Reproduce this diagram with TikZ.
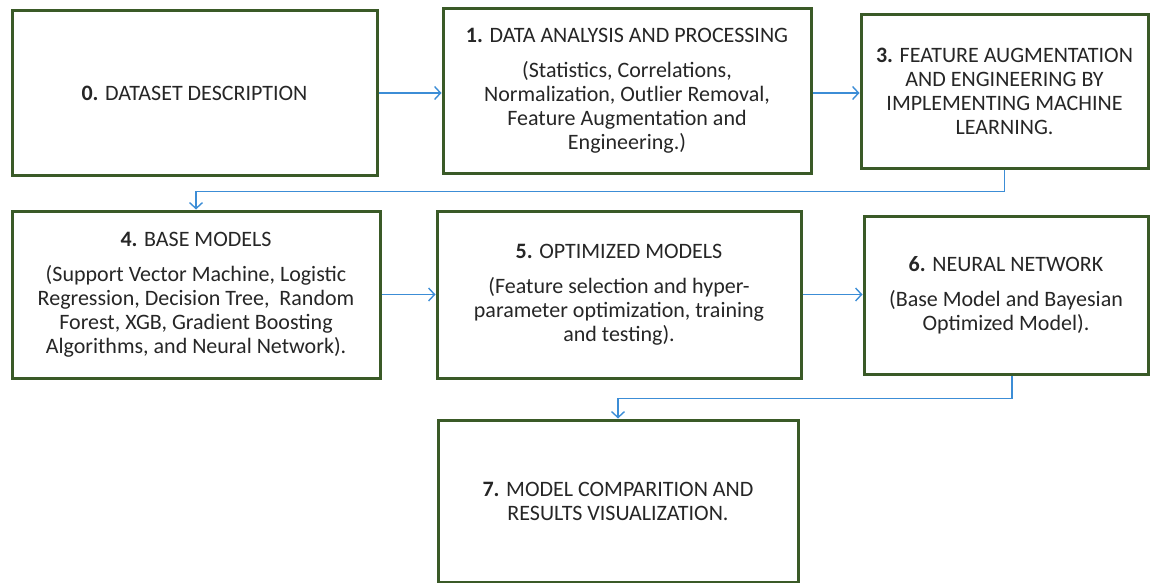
\documentclass[tikz,border=0pt]{standalone}
\usepackage{fontspec}
\setmainfont{Carlito}
\usetikzlibrary{arrows.meta}
\definecolor{boxgreen}{HTML}{3A5A27}
\definecolor{arrowblue}{HTML}{3C8DD6}
\begin{document}
\begin{tikzpicture}[x=1pt,y=-1pt,
  stage/.style={draw=boxgreen, line width=3pt, fill=white, inner sep=0pt, align=center,
    font=\fontsize{22}{24}\selectfont, text=black!85},
  flow/.style={draw=arrowblue, line width=1.4pt, -{Straight Barb[length=6pt,width=13pt]}}]
\useasboundingbox (0,0) rectangle (1151,583);
\node[stage, minimum width=365pt, minimum height=164pt] (s0) at (194.5,93)
  {\textbf{0.} DATASET DESCRIPTION};
\node[stage, minimum width=368pt, minimum height=164pt] (s1) at (627,91)
  {\textbf{1.} DATA ANALYSIS AND PROCESSING\\[11pt]
   (Statistics, Correlations,\\ Normalization, Outlier Removal,\\ Feature Augmentation and\\ Engineering.)};
\node[stage, minimum width=287pt, minimum height=153pt] (s3) at (1004.5,91.5)
  {\textbf{3.} FEATURE AUGMENTATION\\ AND ENGINEERING BY\\ IMPLEMENTING MACHINE\\ LEARNING.};
\node[stage, minimum width=368pt, minimum height=167pt] (s4) at (196,294.5)
  {\textbf{4.} BASE MODELS\\[11pt]
   (Support Vector Machine, Logistic\\ Regression, Decision Tree,~ Random\\ Forest, XGB, Gradient Boosting\\ Algorithms, and Neural Network).};
\node[stage, minimum width=364pt, minimum height=167pt] (s5) at (619,294.5)
  {\textbf{5.} OPTIMIZED MODELS\\[11pt]
   (Feature selection and hyper-\\ parameter optimization, training\\ and testing).};
\node[stage, minimum width=284pt, minimum height=158pt] (s6) at (1006,295)
  {\textbf{6.} NEURAL NETWORK\\[11pt]
   (Base Model and Bayesian\\ Optimized Model).};
\node[stage, minimum width=360pt, minimum height=162pt] (s7) at (618,501)
  {\textbf{7.} MODEL COMPARITION AND\\ RESULTS VISUALIZATION.};
\draw[flow] (s0.east) -- (s0.east -| s1.west);
\draw[flow] (s1.east |- 0,93) -- (s3.west |- 0,93);
\draw[flow] (s3.south) -- ++(0,22) -| (s4.north);
\draw[flow] (s4.east) -- (s4.east -| s5.west);
\draw[flow] (s5.east) -- (s5.east -| s6.west);
\draw[flow] ([xshift=6pt]s6.south) -- ++(0,23) -| (s7.north);
\end{tikzpicture}
\end{document}
